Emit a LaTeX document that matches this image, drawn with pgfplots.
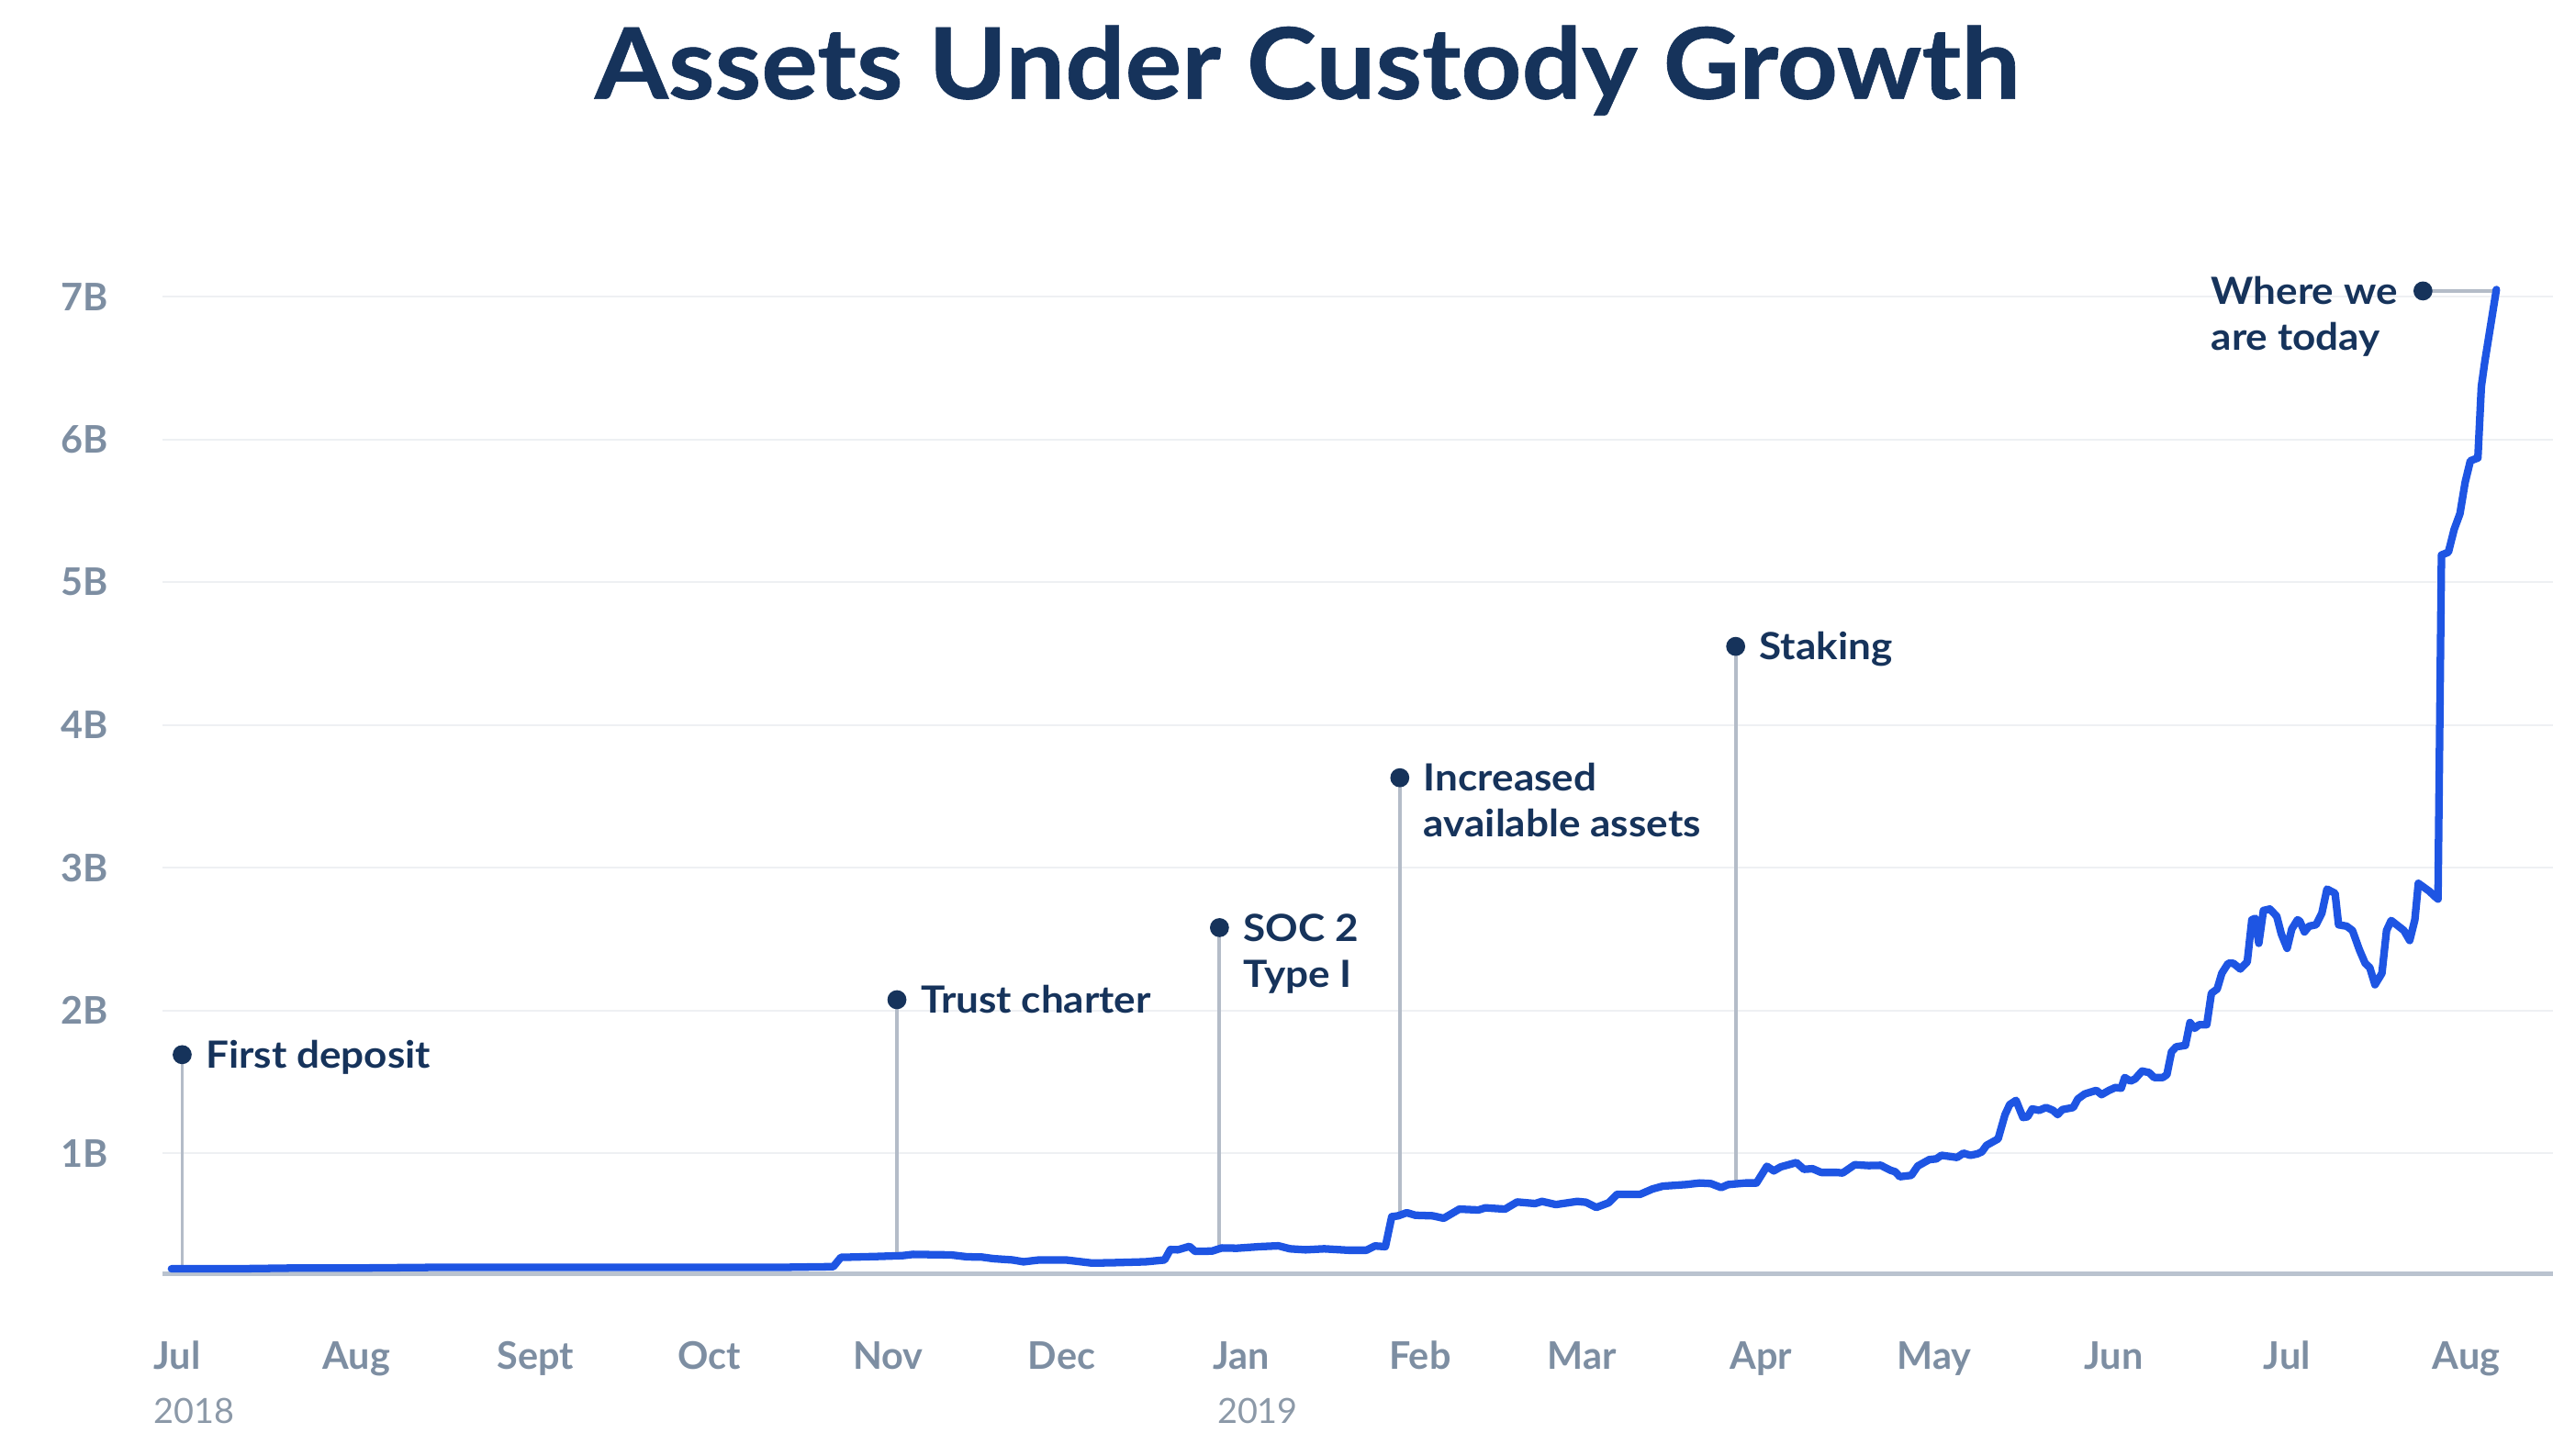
\documentclass[border=0pt]{standalone}
\usepackage{fontspec}
\setmainfont{Lato}
\newfontfamily\titlef{Lato}[FakeStretch=1.07, FakeBold=0.6]
\newfontfamily\annf{Lato}[FakeStretch=1.08]
\usepackage{pgfplots}
\usepackage{pgfplotstable}
\pgfplotsset{compat=1.18}
\definecolor{navy}{HTML}{16335B}
\definecolor{lineblue}{HTML}{1E55E3}
\definecolor{gridc}{HTML}{EEF0F3}
\definecolor{axisc}{HTML}{BAC3CF}
\definecolor{annc}{HTML}{B4BCC8}
\definecolor{tickc}{HTML}{7D8EA2}
\definecolor{yearc}{HTML}{8C99A8}

\pgfplotstableread{
d v
-1 0.19
10 0.19
20 0.195
30 0.195
45 0.20
60 0.20
75 0.20
90 0.20
104.3 0.20
113.5 0.205
114.8 0.27
120.8 0.276
125.4 0.282
127.3 0.291
133.9 0.287
136.6 0.274
139.2 0.272
141.2 0.261
144.5 0.252
146.4 0.239
149.1 0.252
153.7 0.252
158.3 0.23
162.2 0.233
167.5 0.239
170.8 0.252
171.8 0.325
173.1 0.323
175.1 0.347
176.1 0.312
179.0 0.314
180.7 0.336
183.3 0.334
187.2 0.345
190.5 0.351
192.5 0.33
195.2 0.323
198.4 0.33
202.6 0.32
205.7 0.32
207.2 0.35
209.0 0.345
210.1 0.555
211.2 0.561
212.7 0.583
214.2 0.565
217.2 0.561
219.1 0.544
221.8 0.608
225.1 0.602
226.3 0.617
229.7 0.608
231.8 0.658
234.9 0.647
236.1 0.662
238.5 0.64
242.2 0.662
243.7 0.656
245.5 0.62
247.6 0.652
249.1 0.712
253.1 0.712
255.2 0.749
257.0 0.769
261.0 0.78
263.4 0.791
265.3 0.787
267.1 0.759
268.3 0.78
271.3 0.791
273.2 0.791
275.0 0.908
276.2 0.876
277.4 0.904
280.1 0.934
281.4 0.887
282.9 0.891
284.4 0.865
287.1 0.865
288.1 0.861
290.2 0.919
292.6 0.913
294.7 0.915
296.4 0.88
297.2 0.87
298.0 0.835
300.0 0.845
301.1 0.91
303.1 0.955
304.3 0.96
305.2 0.985
307.9 0.97
309.0 1.0
310.2 0.985
311.4 0.995
312.2 1.01
313.0 1.055
315.0 1.10
316.2 1.27
317.0 1.34
318.1 1.37
319.3 1.25
320.1 1.255
320.9 1.31
322.1 1.30
323.3 1.32
324.5 1.30
325.3 1.27
326.1 1.305
328.0 1.32
328.8 1.38
330.0 1.415
331.2 1.43
332.0 1.44
332.9 1.41
334.2 1.44
335.3 1.46
336.3 1.455
336.9 1.53
337.9 1.505
338.7 1.52
339.9 1.575
341.1 1.565
342.0 1.53
343.5 1.53
344.2 1.55
345.0 1.71
345.8 1.745
347.4 1.755
348.2 1.915
349.0 1.875
349.8 1.90
351.1 1.90
351.9 2.12
352.9 2.15
353.7 2.26
354.8 2.33
355.7 2.33
356.9 2.29
358.1 2.34
358.9 2.635
359.5 2.645
360.1 2.47
360.9 2.70
362.0 2.71
363.2 2.66
364.0 2.535
365.0 2.435
365.8 2.57
366.8 2.635
367.2 2.625
368.0 2.55
368.8 2.59
370.0 2.60
371.0 2.68
371.9 2.85
373.3 2.82
373.9 2.60
375.3 2.59
376.3 2.56
377.5 2.425
378.5 2.33
379.3 2.30
380.2 2.18
381.4 2.26
382.2 2.56
383.0 2.63
385.2 2.56
386.2 2.49
387.1 2.635
387.7 2.89
389.6 2.835
390.5 2.80
391.1 2.78
391.7 5.19
392.9 5.21
393.9 5.37
394.9 5.48
395.8 5.70
396.7 5.85
398.0 5.87
398.6 6.37
399.2 6.545
401.2 7.05
}\aucdata

\begin{document}
\begin{tikzpicture}
\useasboundingbox (0,0) rectangle (470.4pt,268.26pt);
\node[anchor=base, font=\titlef\fontsize{18.2}{20}\selectfont\bfseries, text=navy, inner sep=0pt] at (240.9pt,250.05pt) {Assets Under Custody Growth};
\begin{axis}[
  at={(30pt,33.54pt)}, anchor=south west, scale only axis,
  width=440.4pt, height=187.95pt,
  xmin=-2.5, xmax=411, ymin=0.154, ymax=7.3,
  clip=false,
  axis x line*=bottom, axis y line*=left,
  every outer x axis line/.append style={-},
  every outer y axis line/.append style={-},
  x axis line style={-, draw=axisc, line width=0.85pt},
  y axis line style={draw=none},
  major tick length=0pt,
  ymajorgrids, grid style={draw=gridc, line width=0.35pt},
  ytick={1,2,3,4,5,6,7},
  yticklabels={1B,2B,3B,4B,5B,6B,7B},
  xtick={0,31,62,92,123,153,184,215,243,274,304,335,365,396},
  xticklabels={Jul,Aug,Sept,Oct,Nov,Dec,Jan,Feb,Mar,Apr,May,Jun,Jul,Aug},
  tick label style={font=\fontsize{7}{8}\selectfont\bfseries, text=tickc},
  yticklabel style={anchor=east, inner sep=0pt, xshift=-9.9pt},
  xticklabel style={anchor=base, inner sep=0pt, yshift=-17.6pt},
]
% annotation stems
\addplot[annc, line width=0.65pt] coordinates {(0.85,0.20) (0.85,1.69)};
\addplot[annc, line width=0.65pt] coordinates {(124.5,0.28) (124.5,2.075)};
\addplot[annc, line width=0.65pt] coordinates {(180.3,0.335) (180.3,2.58)};
\addplot[annc, line width=0.65pt] coordinates {(211.5,0.57) (211.5,3.63)};
\addplot[annc, line width=0.65pt] coordinates {(269.6,0.79) (269.6,4.55)};
\addplot[annc, line width=0.65pt] coordinates {(388.5,7.04) (401.2,7.04)};
% series
\addplot[lineblue, line width=1.4pt, line join=round, line cap=round] table[x=d,y=v]{\aucdata};
% dots
\addplot[only marks, mark=*, mark size=1.55pt, navy] coordinates {(0.85,1.69) (124.5,2.075) (180.3,2.58) (211.5,3.63) (269.6,4.55) (388.5,7.04)};
% labels
\begin{scope}[every node/.style={font=\annf\fontsize{6.9}{8}\selectfont\bfseries, text=navy, inner sep=0pt}]
\node[anchor=base west, xshift=4.2pt, yshift=-2.5pt] at (axis cs:0.85,1.69) {First deposit};
\node[anchor=base west, xshift=4.2pt, yshift=-2.5pt] at (axis cs:124.5,2.075) {Trust charter};
\node[anchor=base west, xshift=4.2pt, yshift=-2.5pt] (s1) at (axis cs:180.3,2.58) {SOC 2};
\node[anchor=base west, yshift=-8.46pt] at (s1.base west) {Type I};
\node[anchor=base west, xshift=4.2pt, yshift=-2.5pt] (i1) at (axis cs:211.5,3.63) {Increased};
\node[anchor=base west, yshift=-8.46pt] at (i1.base west) {available assets};
\node[anchor=base west, xshift=4.2pt, yshift=-2.5pt] at (axis cs:269.6,4.55) {Staking};
\node[anchor=base east, xshift=-4.5pt, yshift=-2.5pt] (w1) at (axis cs:388.5,7.04) {Where we};
\node[anchor=base west, yshift=-8.46pt] at (w1.base west) {are today};
\end{scope}
\end{axis}
\node[anchor=base west, inner sep=0pt, text=yearc, font=\fontsize{6.4}{8}\selectfont] at (28.2pt,6.0pt) {2018};
\node[anchor=base west, inner sep=0pt, text=yearc, font=\fontsize{6.4}{8}\selectfont] at (224.1pt,6.0pt) {2019};
\end{tikzpicture}
\end{document}
